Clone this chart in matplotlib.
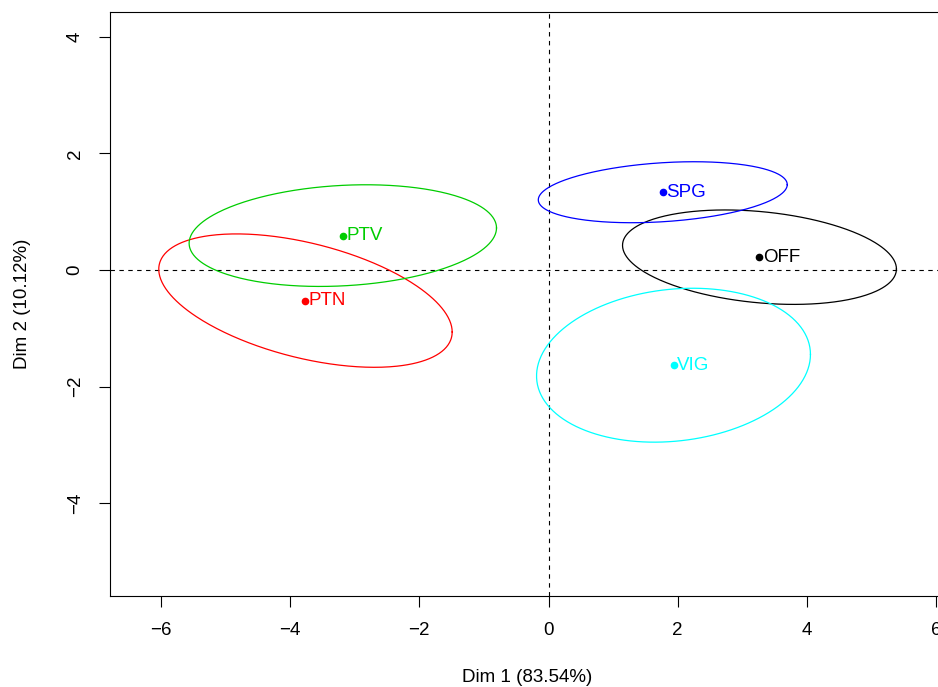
import numpy as np
import matplotlib
matplotlib.use("Agg")
import matplotlib.pyplot as plt

plt.rcParams['font.family'] = ['Liberation Sans', 'DejaVu Sans']

# Group labels and their barycentres (Dim 1, Dim 2)
groups = ["OFF", "PTN", "PTV", "SPG", "VIG"]
dim1 = [3.266, -3.762, -3.184, 1.769, 1.935]
dim2 = [0.220, -0.525, 0.590, 1.334, -1.633]
# Confidence-ellipse half-extents along Dim 1 / Dim 2 and correlation
ell_sx = [2.12, 2.271, 2.379, 1.927, 2.12]
ell_sy = [0.81, 1.144, 0.872, 0.523, 1.32]
ell_r = [-0.25, -0.47, 0.15, 0.25, 0.14]
colors = ["black", "#FF0000", "#00CD00", "#0000FF", "#00FFFF"]

xticks = [-6, -4, -2, 0, 2, 4, 6]
yticks = [-4, -2, 0, 2, 4]

W, H = 938, 687
fig = plt.figure(figsize=(W / 100, H / 100), dpi=100)
left, right, top, bottom = 110, 945, 12, 596
ax = fig.add_axes([left / W, 1 - bottom / H, (right - left) / W, (bottom - top) / H])

x0, xs = 548.5, 64.6
y0, ys = 270.0, 58.3
ax.set_xlim((left - x0) / xs, (right - x0) / xs)
ax.set_ylim((y0 - bottom) / ys, (y0 - top) / ys)

ax.axhline(0, color="black", lw=0.8, ls=(0, (4, 4)), zorder=1)
ax.axvline(0, color="black", lw=0.8, ls=(0, (4, 4)), zorder=1)

FS = 13.5
t = np.linspace(0, 2 * np.pi, 400)
for g, cx, cy, sx, sy, r, c in zip(groups, dim1, dim2, ell_sx, ell_sy, ell_r, colors):
    ex = cx + sx * np.cos(t)
    ey = cy + sy * (r * np.cos(t) + np.sqrt(1 - r * r) * np.sin(t))
    ax.plot(ex, ey, color=c, lw=0.9, zorder=2)
    ax.plot([cx], [cy], 'o', color=c, ms=4.5, zorder=3)
    ax.annotate(g, (cx, cy), xytext=(2.5, 0), textcoords='offset points',
                ha='left', va='center', color=c, fontsize=FS, zorder=4)

ax.set_xticks(xticks)
ax.set_yticks(yticks)
ax.set_xticklabels([f"\u2212{abs(v)}" if v < 0 else str(v) for v in xticks])
ax.set_yticklabels([f"\u2212{abs(v)}" if v < 0 else str(v) for v in yticks],
                   rotation=90, va='center')
ax.tick_params(direction='out', length=8, width=0.8, labelsize=FS, pad=11)
for s in ax.spines.values():
    s.set_linewidth(0.8)

ax.set_xlabel("Dim 1 (83.54%)", fontsize=FS, labelpad=21)
ax.set_ylabel("Dim 2 (10.12%)", fontsize=FS, labelpad=26)

fig.savefig("out.png", dpi=100)
